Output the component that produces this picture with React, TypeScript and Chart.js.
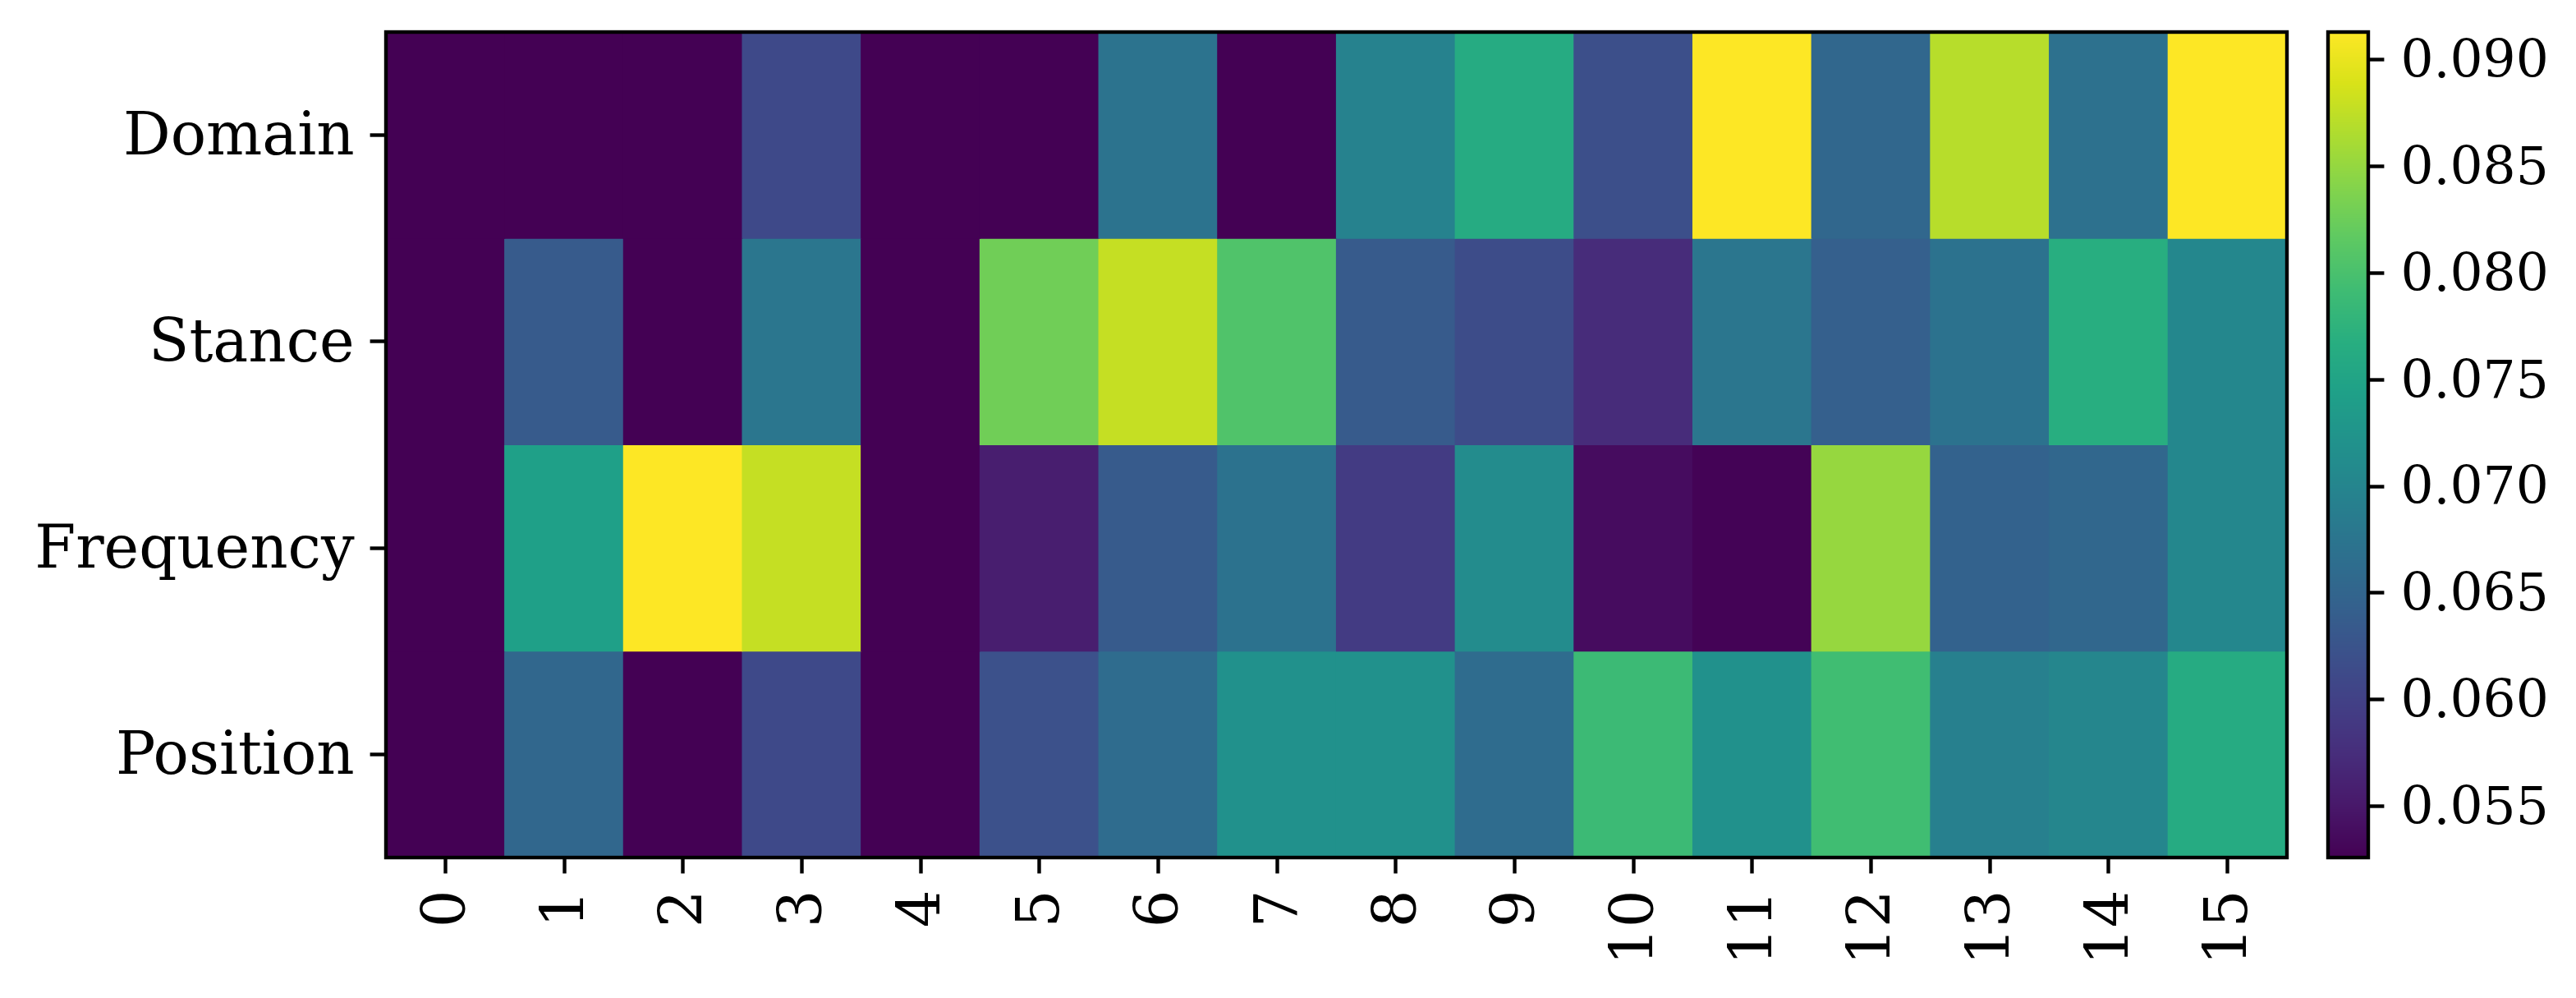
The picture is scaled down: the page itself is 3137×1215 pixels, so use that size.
import React, { useEffect, useRef } from "react";
import { Chart, registerables } from "chart.js";

Chart.register(...registerables);

const rowLabels = ["Domain", "Stance", "Frequency", "Position"];
const colLabels = ["0", "1", "2", "3", "4", "5", "6", "7", "8", "9", "10", "11", "12", "13", "14", "15"];

const domainValues = [0.0526, 0.0526, 0.0526, 0.0611, 0.0526, 0.0526, 0.0673, 0.0526, 0.0696, 0.0762, 0.0619, 0.0913, 0.0654, 0.087, 0.0669, 0.0913];
const stanceValues = [0.0526, 0.0635, 0.0526, 0.0677, 0.0526, 0.0828, 0.0878, 0.0805, 0.0635, 0.0615, 0.0573, 0.0677, 0.0642, 0.0671, 0.0768, 0.0704];
const frequencyValues = [0.0526, 0.0743, 0.0913, 0.0878, 0.0526, 0.0557, 0.0635, 0.0671, 0.0592, 0.0712, 0.0538, 0.0528, 0.0851, 0.0646, 0.0654, 0.0704];
const positionValues = [0.0526, 0.0654, 0.0526, 0.0611, 0.0526, 0.0621, 0.0662, 0.072, 0.072, 0.0662, 0.0789, 0.072, 0.0793, 0.0693, 0.0702, 0.0762];

const colorbarTicks = [0.055, 0.06, 0.065, 0.07, 0.075, 0.08, 0.085, 0.09];

const VIRIDIS = [
  "#440154", "#48186a", "#472d7b", "#424086", "#3b528b", "#33638d", "#2c728e", "#26828e",
  "#21918c", "#1fa088", "#28ae80", "#3fbc73", "#5ec962", "#84d44b", "#addc30", "#d8e219", "#fde725",
];

function hexToRgb(h: string) {
  return [parseInt(h.slice(1, 3), 16), parseInt(h.slice(3, 5), 16), parseInt(h.slice(5, 7), 16)];
}
const VIR_RGB = VIRIDIS.map(hexToRgb);

function viridis(t: number) {
  const tt = Math.max(0, Math.min(1, t)) * (VIR_RGB.length - 1);
  const i = Math.min(Math.floor(tt), VIR_RGB.length - 2);
  const f = tt - i;
  const a = VIR_RGB[i];
  const b = VIR_RGB[i + 1];
  const c = a.map((v, k) => Math.round(v + (b[k] - v) * f));
  return `rgb(${c[0]},${c[1]},${c[2]})`;
}

const allRows = [domainValues, stanceValues, frequencyValues, positionValues];
const allVals = allRows.flat();
const vmin = Math.min(...allVals);
const vmax = Math.max(...allVals);
const colorFor = (v: number) => viridis((v - vmin) / (vmax - vmin));

const FONT = "'DejaVu Serif', 'Liberation Serif', serif";
const LW = 4.4;
const TICK = 19.4;

const framePlugin = {
  id: "framePlugin",
  afterDraw(chart: any) {
    const { ctx, chartArea } = chart;
    const cb = chart.scales.cb;
    ctx.save();
    const cbRight = cb.left;
    const cbLeft = cbRight - 49;
    for (let y = Math.floor(cb.top); y < Math.ceil(cb.bottom); y++) {
      const v = cb.getValueForPixel(y + 0.5);
      ctx.fillStyle = colorFor(v);
      ctx.fillRect(cbLeft, y, cbRight - cbLeft, 1);
    }
    ctx.strokeStyle = "#000";
    ctx.lineWidth = LW;
    ctx.strokeRect(cbLeft, cb.top, cbRight - cbLeft, cb.bottom - cb.top);
    ctx.strokeRect(chartArea.left, chartArea.top, chartArea.right - chartArea.left, chartArea.bottom - chartArea.top);
    ctx.restore();
  },
};

const noPadV = (w: number) => (axis: any) => {
  axis.width = w;
  axis.paddingTop = 0;
  axis.paddingBottom = 0;
};

export default function App() {
  const ref = useRef<HTMLCanvasElement | null>(null);

  useEffect(() => {
    if (!ref.current) return;
    const datasets = allRows.map((vals, r) => ({
      label: rowLabels[r],
      data: vals.map(() => [r - 0.5, r + 0.5]),
      backgroundColor: vals.map(colorFor),
      borderWidth: 0,
      inflateAmount: 0.6,
      grouped: false,
      categoryPercentage: 1,
      barPercentage: 1,
      xAxisID: "x",
      yAxisID: "y",
    }));

    const chart = new Chart(ref.current, {
      type: "bar",
      data: { labels: colLabels, datasets: datasets as any },
      plugins: [framePlugin],
      options: {
        animation: false,
        responsive: false,
        devicePixelRatio: 1,
        layout: { padding: { top: 39, left: 0, right: 0, bottom: 0 } },
        plugins: { legend: { display: false }, tooltip: { enabled: false } },
        scales: {
          x: {
            type: "category",
            offset: true,
            grid: {
              offset: false,
              drawOnChartArea: false,
              drawTicks: true,
              tickLength: TICK,
              tickWidth: LW,
              tickColor: "#000",
            },
            border: { display: false },
            ticks: {
              autoSkip: false,
              maxRotation: 90,
              minRotation: 90,
              padding: 20,
              labelOffset: 5,
              color: "#000",
              font: { family: FONT, size: 72 },
            },
            afterFit: (axis: any) => {
              axis.height = 171;
              axis.paddingLeft = 0;
              axis.paddingRight = 0;
            },
          },
          y: {
            type: "linear",
            reverse: true,
            min: -0.5,
            max: 3.5,
            afterBuildTicks: (axis: any) => {
              axis.ticks = rowLabels.map((_, i) => ({ value: i }));
            },
            grid: {
              drawOnChartArea: false,
              drawTicks: true,
              tickLength: TICK,
              tickWidth: LW,
              tickColor: "#000",
            },
            border: { display: false },
            ticks: {
              padding: 19,
              labelOffset: 5,
              color: "#000",
              font: { family: FONT, size: 72 },
              callback: (v: any) => rowLabels[v as number] ?? "",
            },
            afterFit: noPadV(470),
          },
          gap: {
            type: "linear",
            axis: "y",
            position: "right",
            weight: 0,
            grid: { display: false },
            border: { display: false },
            ticks: { display: false },
            afterFit: noPadV(99),
          },
          cb: {
            type: "linear",
            axis: "y",
            position: "right",
            weight: 1,
            min: vmin,
            max: vmax,
            afterBuildTicks: (axis: any) => {
              axis.ticks = colorbarTicks.map((v) => ({ value: v }));
            },
            grid: {
              drawOnChartArea: false,
              drawTicks: true,
              tickLength: TICK,
              tickWidth: LW,
              tickColor: "#000",
            },
            border: { display: false },
            ticks: {
              padding: 20,
              labelOffset: 5,
              color: "#000",
              font: { family: FONT, size: 63 },
              callback: (v: any) => Number(v).toFixed(3),
            },
            afterFit: noPadV(253),
          },
        },
      } as any,
    });
    return () => chart.destroy();
  }, []);

  return (
    <div style={{ position: "absolute", left: 0, top: 0, width: 3137, height: 1215, background: "#fff" }}>
      <canvas ref={ref} width={3137} height={1215} style={{ display: "block", width: 3137, height: 1215 }} />
    </div>
  );
}
